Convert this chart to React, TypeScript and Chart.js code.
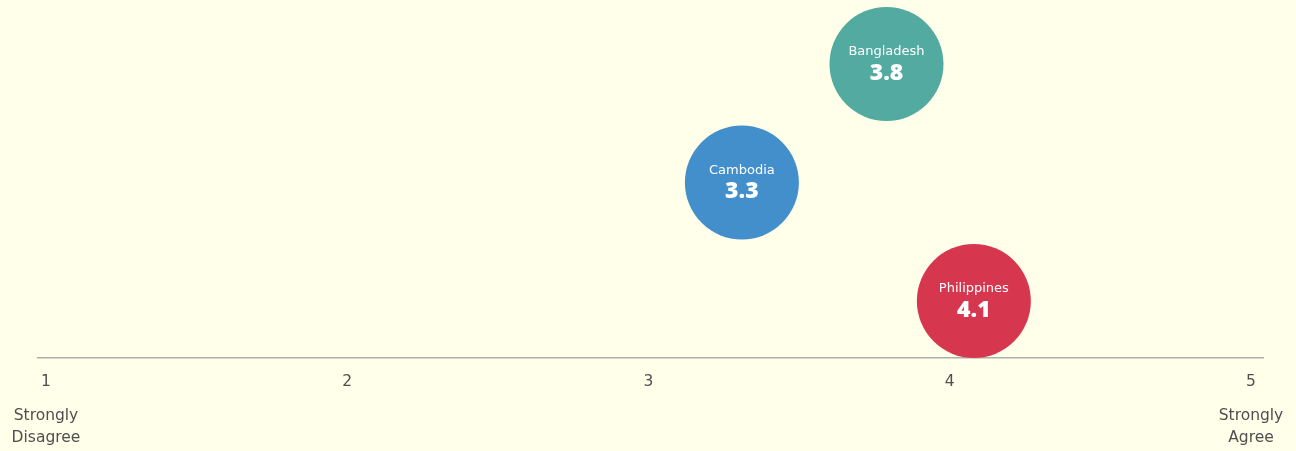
import React, { useEffect, useRef } from "react";
import { Chart, registerables } from "chart.js";

Chart.register(...registerables);

const COUNTRIES = ["Philippines", "Cambodia", "Bangladesh"];
const SCORES = [4.08, 3.31, 3.79];
const ROWS = [1, 2, 3];
const COLORS = ["#D6374F", "#428FCB", "#52AAA0"];
const TICKS = [1, 2, 3, 4, 5];
const END_LABELS: { value: number; lines: string[] }[] = [
  { value: 1, lines: ["Strongly", "Disagree"] },
  { value: 5, lines: ["Strongly", "Agree"] },
];
const BG = "#FFFFEA";
const TEXT = "#4F4F4F";
const FONT = "'DejaVu Sans', 'Open Sans', sans-serif";
const VALUE_FONT = "'Open Sans', 'Noto Sans', sans-serif";

const bubbleText = {
  id: "bubbleText",
  afterDatasetsDraw(chart: any) {
    const ctx = chart.ctx;
    const meta = chart.getDatasetMeta(0);
    ctx.save();
    ctx.fillStyle = "#FFFFFF";
    ctx.textAlign = "center";
    ctx.textBaseline = "middle";
    meta.data.forEach((el: any, i: number) => {
      ctx.font = `400 13px ${FONT}`;
      ctx.fillText(COUNTRIES[i], el.x, el.y - 12);
      ctx.font = `800 23px ${VALUE_FONT}`;
      ctx.fillText(SCORES[i].toFixed(1), el.x, el.y + 9);
    });
    ctx.restore();
  },
};

const endLabels = {
  id: "endLabels",
  afterDraw(chart: any) {
    const ctx = chart.ctx;
    const xs = chart.scales.x;
    ctx.save();
    ctx.fillStyle = TEXT;
    ctx.textAlign = "center";
    ctx.textBaseline = "middle";
    ctx.font = `400 15.5px ${FONT}`;
    END_LABELS.forEach((l) => {
      const x = xs.getPixelForValue(l.value);
      l.lines.forEach((line, j) => {
        ctx.fillText(line, x, 416 + j * 22);
      });
    });
    ctx.restore();
  },
};

export default function App() {
  const ref = useRef<HTMLCanvasElement>(null);
  useEffect(() => {
    if (!ref.current) return;
    const chart = new Chart(ref.current, {
      type: "bubble",
      data: {
        datasets: [
          {
            data: SCORES.map((s, i) => ({ x: s, y: ROWS[i], r: 57 })),
            backgroundColor: COLORS,
            borderWidth: 0,
            hoverBorderWidth: 0,
            clip: false as any,
          },
        ],
      },
      options: {
        animation: false,
        responsive: true,
        maintainAspectRatio: false,
        layout: { autoPadding: false, padding: { left: 38, right: 33, top: 0, bottom: 0 } },
        plugins: { legend: { display: false }, tooltip: { enabled: false } },
        scales: {
          x: {
            type: "linear",
            min: 1 - 8 / 301.25,
            max: 5 + 12 / 301.25,
            afterBuildTicks: (s: any) => {
              s.ticks = TICKS.map((v) => ({ value: v }));
            },
            afterFit: (s: any) => {
              s.height = 93;
            },
            grid: { display: false, drawTicks: false },
            border: { display: true, color: "#A9B1A9", width: 1.5 },
            ticks: {
              padding: 15,
              color: TEXT,
              font: { size: 15.5, family: FONT, weight: 400 as any },
              callback: (v: any) => String(v),
            },
          },
          y: {
            type: "linear",
            display: false,
            min: 0.519,
            max: 3.54,
          },
        },
      },
      plugins: [bubbleText, endLabels],
    });
    return () => chart.destroy();
  }, []);
  return (
    <div
      style={{
        position: "fixed",
        left: 0,
        top: 0,
        width: 1296,
        height: 451,
        background: BG,
      }}
    >
      <canvas ref={ref} />
    </div>
  );
}
